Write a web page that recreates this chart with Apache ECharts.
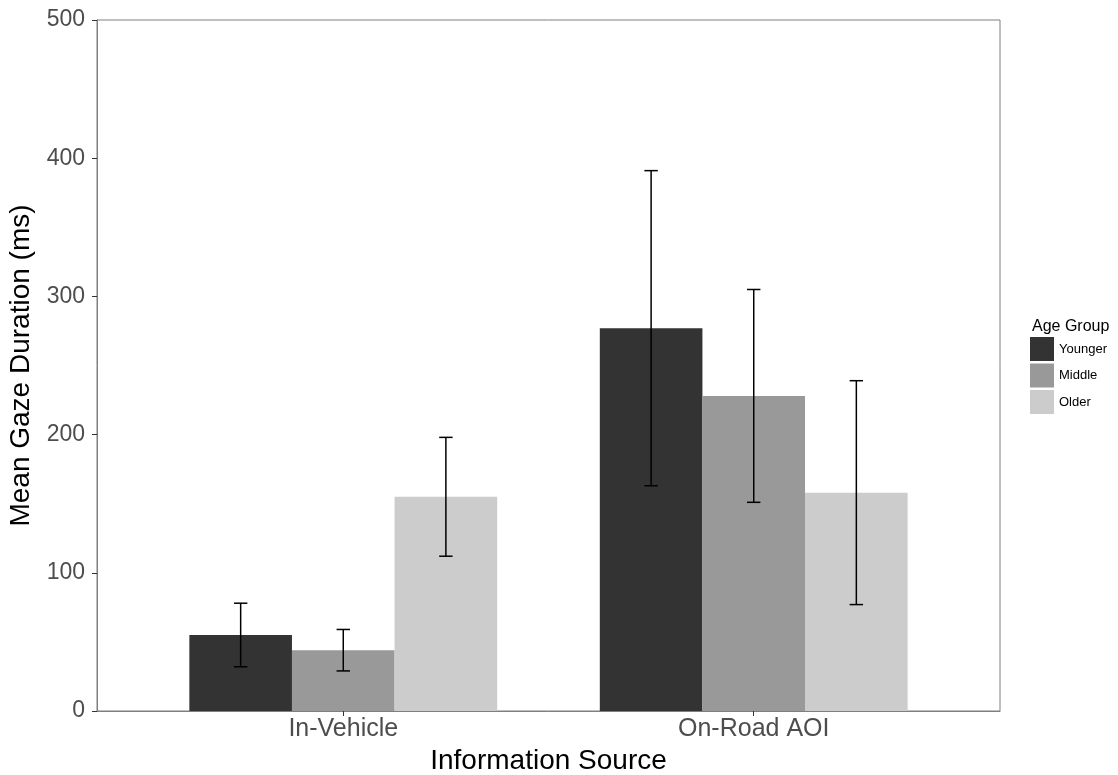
<!DOCTYPE html>
<html>
<head>
<meta charset="utf-8">
<script src="https://cdn.jsdelivr.net/npm/echarts@6/dist/echarts.min.js"></script>
<style>html,body{margin:0;padding:0;background:#fff;}#chart{width:1118px;height:775px;}</style>
</head>
<body>
<div id="chart"></div>
<script>
const categories = ['In-Vehicle', 'On-Road AOI'];
const groups = ['Younger', 'Middle', 'Older'];
const younger = [55, 277];
const middle = [44, 228];
const older = [155, 158];
const youngerLow = [32, 163];
const youngerHigh = [78, 391];
const middleLow = [29, 151];
const middleHigh = [59, 305];
const olderLow = [112, 77];
const olderHigh = [198, 239];
const yTicks = [0, 100, 200, 300, 400, 500];

const colors = ['#333333', '#999999', '#cccccc'];
const values = [younger, middle, older];
const lows = [youngerLow, middleLow, olderLow];
const highs = [youngerHigh, middleHigh, olderHigh];
const barW = 0.25;
const offsets = [-0.25, 0, 0.25];
const font = 'Liberation Sans, Arial, sans-serif';

const series = [];
groups.forEach((g, gi) => {
  series.push({
    type: 'custom',
    name: g,
    itemStyle: { color: colors[gi] },
    data: categories.map((c, i) => [i + 1, values[gi][i]]),
    renderItem: (params, api) => {
      const x = api.value(0) + offsets[gi];
      const v = api.value(1);
      const p0 = api.coord([x - barW / 2, 0]);
      const p1 = api.coord([x + barW / 2, v]);
      return {
        type: 'rect',
        shape: { x: p0[0], y: p1[1], width: p1[0] - p0[0], height: p0[1] - p1[1] },
        style: { fill: colors[gi] }
      };
    },
    z: 2
  });
});
groups.forEach((g, gi) => {
  series.push({
    type: 'custom',
    name: g + ' error',
    data: categories.map((c, i) => [i + 1, lows[gi][i], highs[gi][i]]),
    renderItem: (params, api) => {
      const x = api.value(0) + offsets[gi];
      const lo = api.coord([x, api.value(1)]);
      const hi = api.coord([x, api.value(2)]);
      const cw = 6.7;
      const st = { stroke: '#000', lineWidth: 1.5 };
      return {
        type: 'group',
        children: [
          { type: 'line', shape: { x1: lo[0], y1: lo[1], x2: hi[0], y2: hi[1] }, style: st },
          { type: 'line', shape: { x1: lo[0] - cw, y1: lo[1], x2: lo[0] + cw, y2: lo[1] }, style: st },
          { type: 'line', shape: { x1: hi[0] - cw, y1: hi[1], x2: hi[0] + cw, y2: hi[1] }, style: st }
        ]
      };
    },
    z: 5
  });
});

const chart = echarts.init(document.getElementById('chart'), null, { renderer: 'canvas' });
chart.setOption({
  animation: false,
  backgroundColor: '#fff',
  textStyle: { fontFamily: font },
  title: {
    text: 'Age Group', left: 1027, top: 314,
    textStyle: { fontFamily: font, fontSize: 16, fontWeight: 'normal', color: '#000' }
  },
  legend: {
    data: groups, orient: 'vertical', left: 1025, top: 332,
    icon: 'rect', itemWidth: 24, itemHeight: 24, itemGap: 2.5,
    textStyle: { fontFamily: font, fontSize: 13, color: '#000' }
  },
  grid: {
    left: 97, right: 118, top: 20, bottom: 64,
    containLabel: false, outerBoundsMode: 'none',
    show: true, borderColor: '#7f7f7f', borderWidth: 1, backgroundColor: 'transparent'
  },
  xAxis: {
    type: 'value', min: 0.4, max: 2.6,
    name: 'Information Source', nameLocation: 'middle', nameGap: 31,
    nameTextStyle: { fontFamily: font, fontSize: 28, color: '#000' },
    axisLine: { show: true, lineStyle: { color: '#7f7f7f', width: 1 } },
    axisTick: { show: true, length: 5, customValues: [1, 2], lineStyle: { color: '#333' } },
    axisLabel: {
      customValues: [1, 2], margin: 6,
      formatter: v => categories[Math.round(v) - 1],
      fontFamily: font, fontSize: 25, color: '#4d4d4d'
    },
    splitLine: { show: false }
  },
  yAxis: {
    type: 'value', min: yTicks[0], max: yTicks[yTicks.length - 1], interval: 100,
    name: 'Mean Gaze Duration (ms)', nameLocation: 'middle', nameGap: 58,
    nameTextStyle: { fontFamily: font, fontSize: 28, color: '#000' },
    axisLine: { show: true, lineStyle: { color: '#7f7f7f', width: 1 } },
    axisTick: { show: true, length: 5, lineStyle: { color: '#333' } },
    axisLabel: { margin: 12, fontFamily: font, fontSize: 23, color: '#4d4d4d' },
    splitLine: { show: false }
  },
  series: series
});
</script>
</body>
</html>
